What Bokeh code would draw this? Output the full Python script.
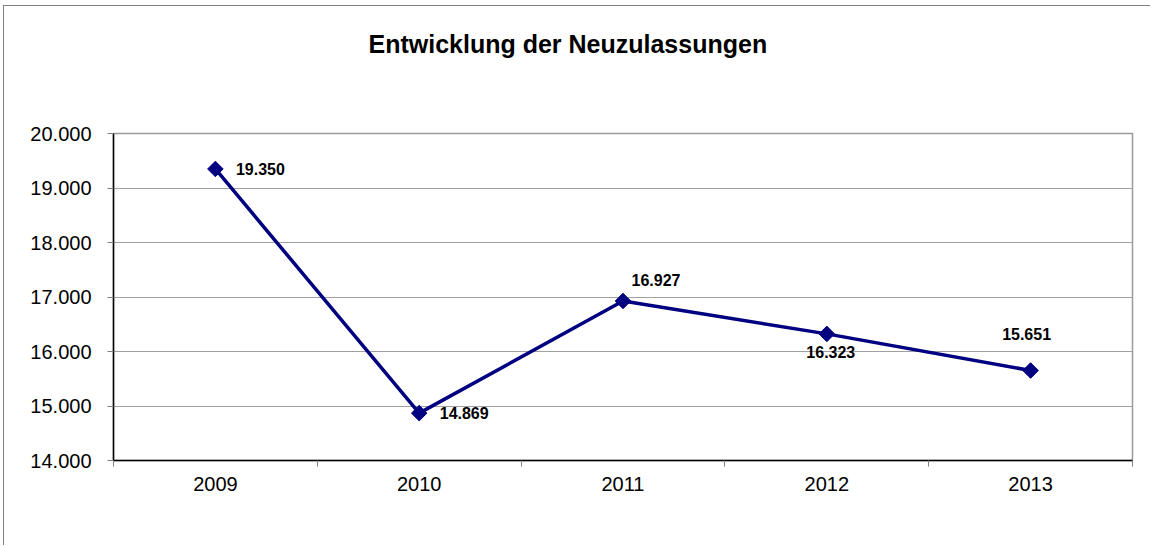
import numpy as np
from bokeh.plotting import figure
from bokeh.models import FixedTicker, Range1d, ColumnDataSource, Title
from bokeh.core.properties import value
from bokeh.embed import file_html
from bokeh.resources import INLINE

# ---- data ----
years = ["2009", "2010", "2011", "2012", "2013"]
registrations = [19350, 14869, 16927, 16323, 15651]
y_ticks = [14000, 15000, 16000, 17000, 18000, 19000, 20000]
title_text = "Entwicklung der Neuzulassungen"

# ---- label placement (style, in pixels) ----
label_dx = [45, 45, 33, 4, -4]
label_dy = [0, 0, -21, 18, -37]


def de_fmt(v):
    return f"{v:,}".replace(",", ".")


FONT = "Liberation Sans"
NAVY = "#000080"

x = np.arange(len(years)) + 0.5

p = figure(
    width=1147, height=540,
    x_range=Range1d(0, len(years)),
    y_range=Range1d(y_ticks[0], y_ticks[-1]),
    output_backend="svg", toolbar_location=None,
    min_border_left=109, min_border_right=19,
    min_border_top=127, min_border_bottom=86,
)
p.styles = {
    "margin-left": "3px", "margin-top": "5px",
    "border-left": "1px solid #808080", "border-top": "1px solid #808080",
}

# spacer between frame and title, then the title itself (stacked outward)
p.add_layout(Title(text=" ", text_font=FONT, text_font_size="25px",
                   standoff=41), "above")
p.add_layout(Title(text=title_text, text_font=FONT, text_font_size="25px",
                   text_font_style="bold", text_color="black",
                   align="left", offset=255, standoff=10), "above")

p.outline_line_color = "#9a9a9a"
p.outline_line_width = 1.5

# x axis: labels at category centres, ticks at category boundaries
xa = p.xaxis[0]
xa.ticker = FixedTicker(ticks=list(x), minor_ticks=list(range(len(years) + 1)))
xa.major_label_overrides = {float(xi): yr for xi, yr in zip(x, years)}
xa.major_tick_out = 0
xa.major_tick_in = 0
xa.minor_tick_out = 6
xa.minor_tick_in = 0
xa.minor_tick_line_color = "#808080"
xa.axis_line_color = "black"
xa.axis_line_width = 1.5
xa.major_label_text_font = FONT
xa.major_label_text_font_size = "20px"
xa.major_label_text_color = "black"
xa.major_label_standoff = 10

ya = p.yaxis[0]
ya.ticker = FixedTicker(ticks=y_ticks, minor_ticks=[])
ya.major_label_overrides = {t: de_fmt(t) for t in y_ticks}
ya.major_tick_out = 6
ya.major_tick_in = 0
ya.major_tick_line_color = "#808080"
ya.minor_tick_out = 0
ya.minor_tick_in = 0
ya.axis_line_color = "black"
ya.axis_line_width = 1.5
ya.major_label_text_font = FONT
ya.major_label_text_font_size = "20px"
ya.major_label_text_color = "black"
ya.major_label_standoff = 16

p.xgrid.visible = False
p.ygrid.ticker = FixedTicker(ticks=y_ticks)
p.ygrid.grid_line_color = "#a0a0a0"
p.ygrid.grid_line_width = 1

src = ColumnDataSource(dict(
    x=x, y=registrations,
    label=[de_fmt(v) for v in registrations],
    dx=label_dx, dy=label_dy,
))

p.line("x", "y", source=src, line_color=NAVY, line_width=3.5)
p.scatter("x", "y", source=src, marker="square", size=11, angle=np.pi / 4,
          fill_color=NAVY, line_color=NAVY)
p.text("x", "y", text="label", source=src, x_offset="dx", y_offset="dy",
       text_font=value(FONT), text_font_size="16px", text_font_style="bold",
       text_color="black", text_align="center", text_baseline="middle")

open("out.html", "w").write(file_html(p, INLINE))
